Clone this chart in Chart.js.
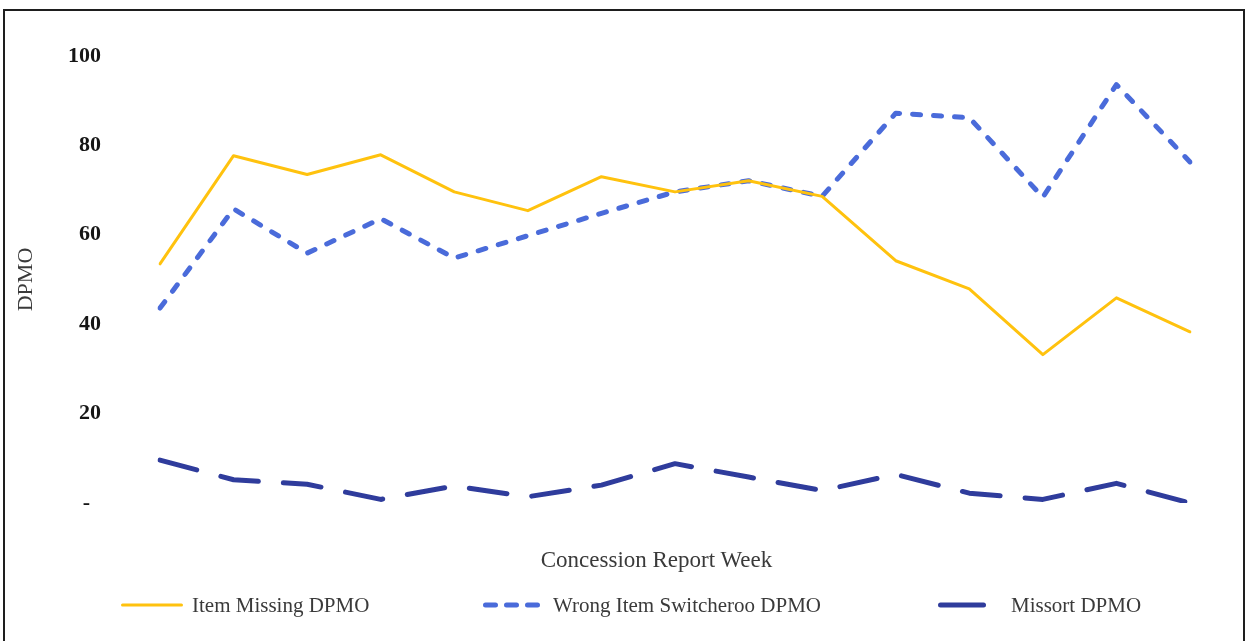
<!DOCTYPE html>
<html>
<head>
<meta charset="utf-8">
<title>Concession Report DPMO</title>
<script src="https://cdn.jsdelivr.net/npm/chart.js@4.4.1/dist/chart.umd.min.js"></script>
<style>
  body { margin: 0; background: #fff; }
  #wrap { position: relative; width: 1248px; height: 641px; overflow: hidden; }
  #frame { position: absolute; left: 3px; top: 9px; width: 1242px; height: 700px; border: 2px solid #1e1e1e; border-bottom: none; box-sizing: border-box; }
  #chart { position: absolute; left: 0; top: 0; }
  .txt { position: absolute; font-family: "Liberation Serif", "Times New Roman", serif; color: #3a3a3a; white-space: nowrap; }
  #xTitle { font-size: 23px; left: 0; width: 1313px; text-align: center; top: 547px; }
  .legend-item { position: absolute; top: 592px; height: 26px; display: flex; align-items: center; font-size: 21px; }
  .legend-item svg { display: block; }
</style>
</head>
<body>
<div id="wrap">
  <div id="frame"></div>
  <canvas id="chart" width="1248" height="641"></canvas>
  <div id="xTitle" class="txt">Concession Report Week</div>
  <div id="legend"></div>
</div>
<script>
// weekly DPMO figures
const weeks = ['W1', 'W2', 'W3', 'W4', 'W5', 'W6', 'W7', 'W8', 'W9', 'W10', 'W11', 'W12', 'W13', 'W14', 'W15'];
const itemMissing = [53.5, 77.7, 73.5, 77.9, 69.6, 65.4, 73.0, 69.6, 72.1, 68.6, 54.2, 47.9, 33.2, 45.9, 38.3];
const wrongItem = [43.6, 65.8, 55.9, 63.6, 54.8, 59.8, 64.8, 69.6, 72.1, 68.6, 87.2, 86.2, 68.4, 93.6, 76.3];
const missort = [9.6, 5.2, 4.2, 0.8, 3.8, 1.4, 4.0, 8.8, 5.8, 2.8, 6.4, 2.2, 0.8, 4.4, 0];
const yTicks = [0, 20, 40, 60, 80, 100];

const serif = '"Liberation Serif", "Times New Roman", serif';

const series = [
  { label: 'Item Missing DPMO', data: itemMissing, color: '#FFC20E', width: 3, dash: [] },
  { label: 'Wrong Item Switcheroo DPMO', data: wrongItem, color: '#4A6BDA', width: 5, dash: [8, 13] },
  { label: 'Missort DPMO', data: missort, color: '#2F3C9C', width: 5, dash: [38, 25] }
];

new Chart(document.getElementById('chart'), {
  type: 'line',
  data: {
    labels: weeks,
    datasets: series.map(s => ({
      label: s.label,
      data: s.data,
      borderColor: s.color,
      borderWidth: s.width,
      borderDash: s.dash,
      borderCapStyle: 'round',
      borderJoinStyle: 'round',
      pointRadius: 0,
      tension: 0,
      fill: false
    }))
  },
  options: {
    responsive: false,
    animation: false,
    layout: { padding: { left: 13, right: 58, top: 56, bottom: 68 } },
    plugins: { legend: { display: false }, tooltip: { enabled: false } },
    scales: {
      x: {
        offset: false,
        grid: { display: false, drawTicks: false },
        border: { display: false },
        ticks: { display: false },
        afterFit: scale => { scale.height = 70; }
      },
      y: {
        min: 0,
        max: 100,
        grid: { display: false, drawTicks: false },
        border: { display: false },
        afterBuildTicks: scale => { scale.ticks = yTicks.map(v => ({ value: v })); },
        ticks: {
          padding: 59,
          color: '#161616',
          font: { family: serif, size: 22, weight: 'bold' },
          callback: v => (v === 0 ? '-  ' : v)
        },
        title: {
          display: true,
          text: 'DPMO',
          color: '#3a3a3a',
          padding: 0,
          font: { family: serif, size: 22 }
        },
        afterFit: scale => {
          scale.width = 147;
          // the big label gap would otherwise push the plot area down
          scale.paddingTop = 0;
          scale.paddingBottom = 0;
        }
      }
    }
  }
});

// legend below the axis title: the missort sample is drawn solid
const legendSpots = [
  { x: 121, sample: 62, gap: 9, dash: '' },
  { x: 483, sample: 58, gap: 12, dash: '10 11' },
  { x: 938, sample: 48, gap: 25, dash: '' }
];
const legend = document.getElementById('legend');
series.forEach((s, i) => {
  const spot = legendSpots[i];
  const item = document.createElement('div');
  item.className = 'legend-item txt';
  item.style.left = spot.x + 'px';
  const lw = s.width;
  const dash = spot.dash ? `stroke-dasharray="${spot.dash}"` : '';
  item.innerHTML = `<svg width="${spot.sample}" height="12"><line x1="${lw / 2}" y1="6" x2="${spot.sample - lw / 2}" y2="6" stroke="${s.color}" stroke-width="${lw}" stroke-linecap="round" ${dash}/></svg>` +
    `<span style="margin-left:${spot.gap}px">${s.label}</span>`;
  legend.appendChild(item);
});
</script>
</body>
</html>
